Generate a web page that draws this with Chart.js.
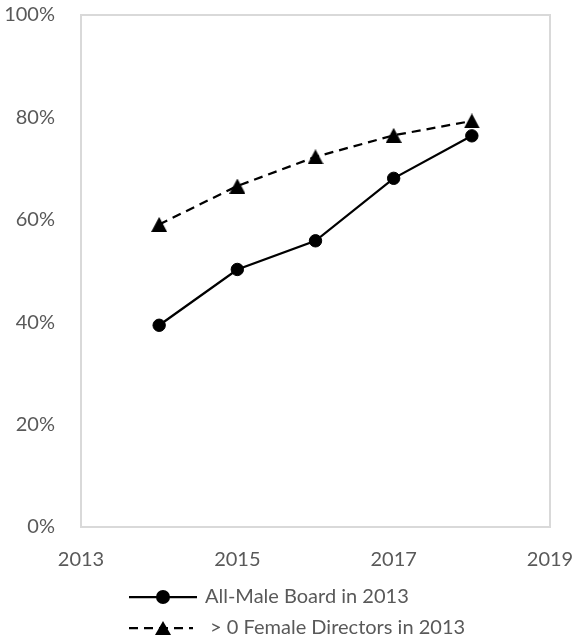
<!DOCTYPE html>
<html>
<head>
<meta charset="utf-8">
<script src="https://cdn.jsdelivr.net/npm/chart.js@4/dist/chart.umd.min.js"></script>
<style>
  html, body { margin: 0; padding: 0; background: #fff; }
  #wrap { width: 574px; height: 640px; }
</style>
</head>
<body>
<div id="wrap"><canvas id="boardChart" width="574" height="640"></canvas></div>
<script>
const years = [2014, 2015, 2016, 2017, 2018];
const allMaleBoard = [39.4, 50.3, 55.9, 68.1, 76.4];
const femaleDirectors = [59.1, 66.6, 72.3, 76.5, 79.3];
const seriesNames = ['All-Male Board in 2013', ' > 0 Female Directors in 2013'];
const xTicks = [2013, 2015, 2017, 2019];
const yTicks = [0, 20, 40, 60, 80, 100];

const gray = '#595959';

// filled triangle marker, centred on its bounding box
function triangleMarker(w, h) {
    const c = document.createElement('canvas');
    c.width = w; c.height = h;
    const g = c.getContext('2d');
    g.fillStyle = '#000';
    g.beginPath();
    g.moveTo(w / 2, 0);
    g.lineTo(w, h);
    g.lineTo(0, h);
    g.closePath();
    g.fill();
    return c;
}

// legend swatch: line sample with the marker in the middle
function legendSwatch(dashed) {
    const c = document.createElement('canvas');
    c.width = 68; c.height = 18;
    const g = c.getContext('2d');
    g.strokeStyle = '#000';
    g.lineWidth = 2.25;
    if (dashed) g.setLineDash([9, 6]);
    g.beginPath();
    g.moveTo(0, 9);
    g.lineTo(dashed ? 64 : 68, 9);
    g.stroke();
    g.fillStyle = '#000';
    if (dashed) {
        g.drawImage(triangleMarker(16, 14), 26, 2);
    } else {
        g.beginPath();
        g.arc(34, 9, 7, 0, Math.PI * 2);
        g.fill();
    }
    return c;
}

const triangle = triangleMarker(16, 15);
const swatches = [legendSwatch(false), legendSwatch(true)];

// no extra room for overhanging tick labels; layout padding sets the plot box
function noOverhang(s) {
    s.paddingTop = 0;
    s.paddingBottom = 0;
    s.paddingLeft = 0;
    s.paddingRight = 0;
}

const plotBorder = {
    id: 'plotBorder',
    beforeDraw(chart) {
        const lg = chart.legend;
        lg.left = 120;
        lg.top = 576;
    },
    afterDraw(chart) {
        const {ctx, chartArea: a} = chart;
        ctx.save();
        ctx.strokeStyle = '#d9d9d9';
        ctx.lineWidth = 2;
        ctx.strokeRect(a.left, a.top, a.right - a.left, a.bottom - a.top);
        ctx.restore();
    }
};

new Chart(document.getElementById('boardChart'), {
    type: 'line',
    data: {
        datasets: [{
            label: seriesNames[0],
            data: years.map((y, i) => ({x: y, y: allMaleBoard[i]})),
            borderColor: '#000',
            backgroundColor: '#000',
            borderWidth: 2.25,
            pointStyle: 'circle',
            pointRadius: 6.2,
            pointBorderWidth: 1,
            pointBackgroundColor: '#000',
            pointBorderColor: '#000',
            tension: 0
        }, {
            label: seriesNames[1],
            data: years.map((y, i) => ({x: y, y: femaleDirectors[i]})),
            borderColor: '#000',
            backgroundColor: '#000',
            borderWidth: 2.25,
            borderDash: [9, 6],
            pointStyle: triangle,
            pointRadius: 8,
            tension: 0
        }]
    },
    options: {
        responsive: false,
        animation: false,
        layout: { padding: { left: 0, right: 24, top: 15, bottom: 0 } },
        scales: {
            x: {
                type: 'linear',
                min: 2013,
                max: 2019,
                afterBuildTicks: s => { s.ticks = xTicks.map(v => ({value: v})); },
                afterFit: s => { s.height = 41; noOverhang(s); },
                grid: { display: false, drawTicks: false },
                border: { display: false },
                ticks: {
                    padding: 21,
                    color: gray,
                    font: { family: 'Lato', size: 20 },
                    callback: v => String(v)
                }
            },
            y: {
                min: 0,
                max: 100,
                afterBuildTicks: s => { s.ticks = yTicks.map(v => ({value: v})); },
                afterFit: s => { s.width = 81; noOverhang(s); },
                grid: { display: false, drawTicks: false },
                border: { display: false },
                ticks: {
                    padding: 26,
                    color: gray,
                    font: { family: 'Lato', size: 20 },
                    callback: v => v + '%'
                }
            }
        },
        plugins: {
            tooltip: { enabled: false },
            legend: {
                position: 'bottom',
                align: 'start',
                labels: {
                    usePointStyle: true,
                    pointStyleWidth: 64,
                    padding: 11,
                    color: gray,
                    font: { family: 'Lato', size: 20 },
                    generateLabels: chart => {
                        const items = Chart.defaults.plugins.legend.labels.generateLabels(chart);
                        items.forEach((it, i) => { it.pointStyle = swatches[i]; });
                        return items;
                    }
                }
            }
        }
    },
    plugins: [plotBorder]
});
</script>
</body>
</html>
